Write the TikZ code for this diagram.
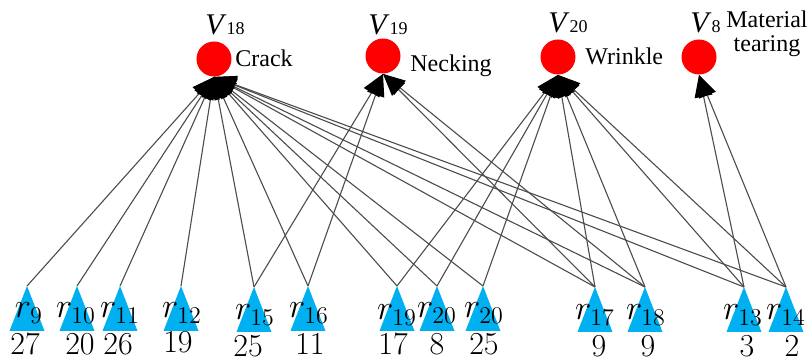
\documentclass[tikz,border=0pt]{standalone}
\usepackage{fontspec}
\usetikzlibrary{arrows.meta}
\setmainfont{Liberation Serif}
\newfontfamily\lmr{Latin Modern Roman}
\definecolor{causeblue}{RGB}{0,176,240}
\newcommand{\vname}[1]{{\fontsize{15}{15}\selectfont\itshape V}\hspace{1.5pt}{\fontsize{9}{9}\selectfont #1}}

\begin{document}
\begin{tikzpicture}[x=0.5pt, y=-0.5pt,
  fault/.style={circle, fill=red, minimum size=17.5pt, inner sep=0pt},
  cause/.style={fill=causeblue},
  edge/.style={-{Triangle[length=11pt, width=9pt, color=black]}, draw=black!70, line width=0.55pt},
  vlab/.style={font=\rmfamily, inner sep=0pt, anchor=base west},
  flab/.style={font=\rmfamily\fontsize{12}{12}\selectfont, inner sep=0pt, anchor=base west},
  rlab/.style={font=\lmr\fontsize{18}{18}\selectfont, inner sep=0pt, anchor=base},
  cnt/.style={font=\lmr\fontsize{16}{16}\selectfont, inner sep=0pt, anchor=base}]
\useasboundingbox (0,0) rectangle (811,363);

% fault nodes
\node[fault] (v18) at (214,59) {};
\node[fault] (v19) at (383,56) {};
\node[fault] (v20) at (558,57) {};
\node[fault] (v8) at (699,57) {};
\node[vlab] (l18) at (205,35) {\vname{18}};
\node[vlab] (l19) at (368,35) {\vname{19}};
\node[vlab] (l20) at (548,33) {\vname{20}};
\node[vlab] (l8) at (690,33) {\vname{8}};
\node[flab] (crack) at (235,67) {Crack};
\node[flab] (necking) at (410,72) {Necking};
\node[flab] (wrinkle) at (585,65) {Wrinkle};
\node[flab, anchor=base, align=center] (tearing) at (767,52) {Material\\tearing};

% cause triangles
\fill[cause] (27,286) coordinate (r9) -- ++(-17.5,45) -- ++(35,0) -- cycle;
\fill[cause] (77,286) coordinate (r10) -- ++(-17.5,45) -- ++(35,0) -- cycle;
\fill[cause] (120,286) coordinate (r11) -- ++(-17.5,45) -- ++(35,0) -- cycle;
\fill[cause] (181,286) coordinate (r12) -- ++(-17.5,45) -- ++(35,0) -- cycle;
\fill[cause] (254,287) coordinate (r15) -- ++(-17.5,45) -- ++(35,0) -- cycle;
\fill[cause] (308,286) coordinate (r16) -- ++(-17.5,45) -- ++(35,0) -- cycle;
\fill[cause] (397,286) coordinate (r19) -- ++(-17.5,45) -- ++(35,0) -- cycle;
\fill[cause] (437,286) coordinate (r20a) -- ++(-17.5,45) -- ++(35,0) -- cycle;
\fill[cause] (483,286) coordinate (r20b) -- ++(-17.5,45) -- ++(35,0) -- cycle;
\fill[cause] (595,287) coordinate (r17) -- ++(-17.5,45) -- ++(35,0) -- cycle;
\fill[cause] (645,287) coordinate (r18) -- ++(-17.5,45) -- ++(35,0) -- cycle;
\fill[cause] (744,287) coordinate (r13) -- ++(-17.5,45) -- ++(35,0) -- cycle;
\fill[cause] (786,287) coordinate (r14) -- ++(-17.5,45) -- ++(35,0) -- cycle;

\node[rlab] (t9) at (29,318) {$r_{9}$};
\node[rlab] (t10) at (76,318) {$r_{10}$};
\node[rlab] (t11) at (120,318) {$r_{11}$};
\node[rlab] (t12) at (182,318) {$r_{12}$};
\node[rlab] (t15) at (255,320) {$r_{15}$};
\node[rlab] (t16) at (309,318) {$r_{16}$};
\node[rlab] (t19) at (397,320) {$r_{19}$};
\node[rlab] (t20a) at (437,318) {$r_{20}$};
\node[rlab] (t20b) at (484,318) {$r_{20}$};
\node[rlab] (t17) at (595,320) {$r_{17}$};
\node[rlab] (t18) at (646,320) {$r_{18}$};
\node[rlab] (t13) at (743,320) {$r_{13}$};
\node[rlab] (t14) at (786,320) {$r_{14}$};

\node[cnt] (n9) at (25,355) {27};
\node[cnt] (n10) at (80,355) {20};
\node[cnt] (n11) at (118,355) {26};
\node[cnt] (n12) at (178,353) {19};
\node[cnt] (n15) at (248,357) {25};
\node[cnt] (n16) at (310,355) {11};
\node[cnt] (n19) at (393,355) {17};
\node[cnt] (n20a) at (437,355) {8};
\node[cnt] (n20b) at (484,355) {25};
\node[cnt] (n17) at (599,357) {9};
\node[cnt] (n18) at (648,357) {9};
\node[cnt] (n13) at (747,357) {3};
\node[cnt] (n14) at (792,357) {2};

% links
\draw[edge] (r9) -- (v18.south);
\draw[edge] (r10) -- (v18.south);
\draw[edge] (r11) -- (v18.south);
\draw[edge] (r12) -- (v18.south);
\draw[edge] (r15) -- (v18.south);
\draw[edge] (r16) -- (v18.south);
\draw[edge] (r19) -- (v18.south);
\draw[edge] (r20a) -- (v18.south);
\draw[edge] (r20b) -- (v18.south);
\draw[edge] (r17) -- (v18.south);
\draw[edge] (r18) -- (v18.south);
\draw[edge] (r13) -- (v18.south);
\draw[edge] (r14) -- (v18.south);
\draw[edge] (r15) -- (v19.south);
\draw[edge] (r16) -- (v19.south);
\draw[edge] (r17) -- (v19.south);
\draw[edge] (r18) -- (v19.south);
\draw[edge] (r19) -- (v20.south);
\draw[edge] (r20a) -- (v20.south);
\draw[edge] (r20b) -- (v20.south);
\draw[edge] (r17) -- (v20.south);
\draw[edge] (r18) -- (v20.south);
\draw[edge] (r13) -- (v20.south);
\draw[edge] (r14) -- (v20.south);
\draw[edge] (r13) -- (v8.south);
\draw[edge] (r14) -- (v8.south);
\end{tikzpicture}
\end{document}
